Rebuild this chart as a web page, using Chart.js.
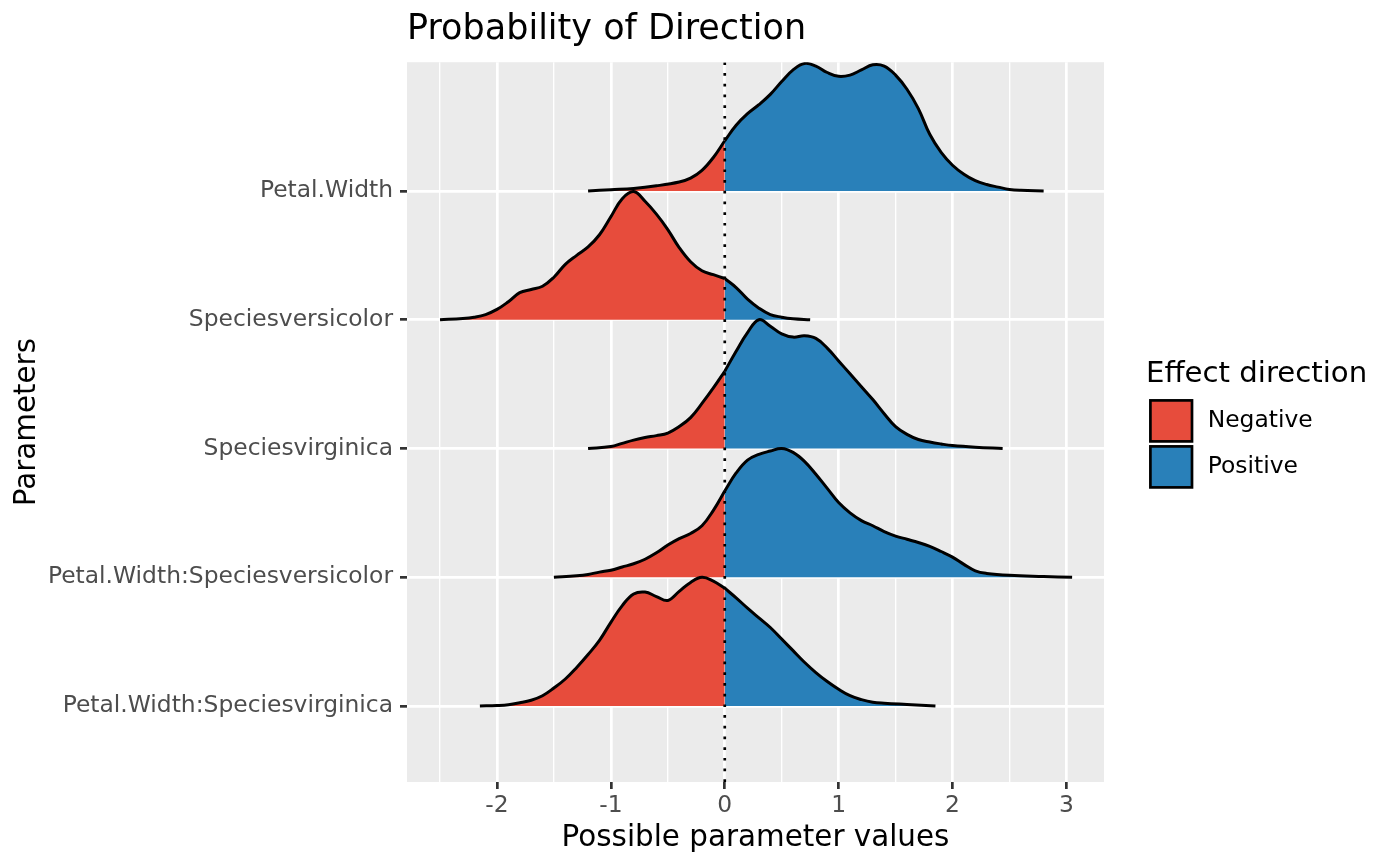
<!DOCTYPE html>
<html>
<head>
<meta charset="utf-8">
<script src="https://cdn.jsdelivr.net/npm/chart.js@4.4.1/dist/chart.umd.min.js"></script>
<style>
  body { margin: 0; background: #fff; }
</style>
</head>
<body>
<canvas id="pd" width="1400" height="866"></canvas>
<script>
// parameters, bottom (1) to top (5)
const params = ['Petal.Width:Speciesvirginica', 'Petal.Width:Speciesversicolor',
  'Speciesvirginica', 'Speciesversicolor', 'Petal.Width'];
const directions = ['Negative', 'Positive'];
const dirColors = ['#E74C3C', '#2980B9'];
const xTicks = [-2.5, -2, -1.5, -1, -0.5, 0, 0.5, 1, 1.5, 2, 2.5, 3];

// posterior densities, scaled so each ridge peaks at 1 row
const petalWidthX = [-1.2, -1.0, -0.8, -0.6, -0.4, -0.3, -0.2, -0.1, 0, 0.1, 0.2, 0.3, 0.4, 0.5, 0.6, 0.7, 0.8, 0.9,
  1.0, 1.1, 1.2, 1.3, 1.4, 1.5, 1.6, 1.7, 1.8, 1.9, 2.0, 2.1, 2.2, 2.3, 2.4, 2.5, 2.6, 2.8];
const petalWidthD = [0, 0.01, 0.02, 0.04, 0.07, 0.10, 0.16, 0.26, 0.39, 0.51, 0.60, 0.67, 0.75, 0.85, 0.94, 0.99, 0.97, 0.92,
  0.89, 0.90, 0.94, 0.98, 0.97, 0.90, 0.79, 0.64, 0.44, 0.30, 0.20, 0.13, 0.08, 0.05, 0.03, 0.012, 0.005, 0];

const versicolorX = [-2.5, -2.3, -2.2, -2.1, -2.0, -1.9, -1.8, -1.7, -1.6, -1.5, -1.4, -1.3, -1.2, -1.1, -1.0, -0.9,
  -0.8, -0.7, -0.6, -0.5, -0.4, -0.3, -0.2, -0.1, 0, 0.1, 0.2, 0.3, 0.4, 0.5, 0.6, 0.75];
const versicolorD = [0, 0.01, 0.02, 0.04, 0.08, 0.14, 0.21, 0.235, 0.26, 0.33, 0.43, 0.50, 0.565, 0.66, 0.80, 0.94,
  0.995, 0.92, 0.82, 0.70, 0.56, 0.45, 0.38, 0.35, 0.32, 0.25, 0.16, 0.09, 0.04, 0.02, 0.008, 0];

const virginicaX = [-1.2, -1.0, -0.9, -0.8, -0.7, -0.6, -0.5, -0.4, -0.3, -0.2, -0.1, 0, 0.1, 0.2, 0.3, 0.4, 0.5,
  0.6, 0.7, 0.8, 0.9, 1.0, 1.1, 1.2, 1.3, 1.4, 1.5, 1.6, 1.7, 1.8, 1.9, 2.0, 2.2, 2.44];
const virginicaD = [0, 0.015, 0.04, 0.065, 0.085, 0.10, 0.12, 0.17, 0.24, 0.35, 0.47, 0.60, 0.755, 0.90, 1.0, 0.95, 0.89,
  0.865, 0.875, 0.855, 0.78, 0.68, 0.58, 0.48, 0.38, 0.27, 0.17, 0.11, 0.07, 0.05, 0.035, 0.023, 0.01, 0];

const intVersX = [-1.5, -1.3, -1.2, -1.1, -1.0, -0.9, -0.8, -0.7, -0.6, -0.5, -0.4, -0.3, -0.2, -0.1, 0, 0.1, 0.2,
  0.3, 0.4, 0.5, 0.6, 0.7, 0.8, 0.9, 1.0, 1.1, 1.2, 1.3, 1.4, 1.5, 1.6, 1.7, 1.8, 1.9, 2.0, 2.1, 2.2, 2.3, 2.5, 2.8, 3.05];
const intVersD = [0, 0.012, 0.022, 0.04, 0.055, 0.08, 0.105, 0.14, 0.19, 0.25, 0.30, 0.34, 0.40, 0.52, 0.67, 0.81, 0.91,
  0.955, 0.98, 1.0, 0.97, 0.90, 0.80, 0.69, 0.58, 0.50, 0.44, 0.40, 0.355, 0.32, 0.295, 0.27, 0.24, 0.20, 0.156, 0.10,
  0.05, 0.03, 0.015, 0.006, 0];

const intVirgX = [-2.15, -2.0, -1.9, -1.8, -1.7, -1.6, -1.5, -1.4, -1.3, -1.2, -1.1, -1.0, -0.9, -0.8, -0.7, -0.6,
  -0.5, -0.4, -0.3, -0.2, -0.1, 0, 0.1, 0.2, 0.3, 0.4, 0.5, 0.6, 0.7, 0.8, 0.9, 1.0, 1.1, 1.2, 1.3, 1.4, 1.6, 1.85];
const intVirgD = [0, 0.004, 0.01, 0.025, 0.045, 0.08, 0.14, 0.21, 0.30, 0.40, 0.51, 0.65, 0.78, 0.87, 0.885, 0.85,
  0.82, 0.89, 0.96, 1.0, 0.97, 0.915, 0.84, 0.76, 0.685, 0.61, 0.52, 0.43, 0.34, 0.26, 0.19, 0.13, 0.08, 0.05, 0.03,
  0.022, 0.012, 0];

const xMin = -2.79, xMax = 3.33;
const yMin = 0.41, yMax = 6.0;

Chart.defaults.font.family = "'DejaVu Sans', sans-serif";

const ridges = [
  { pos: 1, xs: intVirgX, ds: intVirgD },
  { pos: 2, xs: intVersX, ds: intVersD },
  { pos: 3, xs: virginicaX, ds: virginicaD },
  { pos: 4, xs: versicolorX, ds: versicolorD },
  { pos: 5, xs: petalWidthX, ds: petalWidthD }
];

// each ridge split at 0 into a negative and a positive part
const datasets = [];
ridges.forEach(r => {
  const pts = r.xs.map((x, i) => ({ x: x, y: r.pos + r.ds[i] }));
  [pts.filter(p => p.x <= 0), pts.filter(p => p.x >= 0)].forEach((part, k) => {
    datasets.push({
      label: params[r.pos - 1] + ' ' + directions[k],
      data: part,
      fill: { value: r.pos },
      backgroundColor: dirColors[k],
      borderColor: '#000',
      borderWidth: 3,
      pointRadius: 0,
      tension: 0.4,
      order: r.pos
    });
  });
});

// dotted line at zero
datasets.push({
  label: 'zero',
  data: [{ x: 0, y: yMin }, { x: 0, y: yMax }],
  borderColor: '#000',
  borderWidth: 2.7,
  borderDash: [2.7, 8],
  pointRadius: 0,
  fill: false,
  order: 0
});

const panelBg = {
  id: 'panelBg',
  beforeDraw(chart) {
    const { ctx, chartArea: a } = chart;
    ctx.save();
    ctx.fillStyle = '#EBEBEB';
    ctx.fillRect(a.left, a.top, a.right - a.left, a.bottom - a.top);
    ctx.restore();
  }
};

// ggplot style fill legend on the right
const fillLegend = {
  id: 'fillLegend',
  afterDraw(chart) {
    const ctx = chart.ctx;
    ctx.save();
    ctx.fillStyle = '#000';
    ctx.font = "29.2px 'DejaVu Sans'";
    ctx.textBaseline = 'alphabetic';
    ctx.fillText('Effect direction', 1146, 381.5);
    directions.forEach((d, i) => {
      const y = 400.4 + i * 46;
      ctx.fillStyle = dirColors[i];
      ctx.fillRect(1150.4, y, 41.6, 41);
      ctx.lineWidth = 2.7;
      ctx.strokeStyle = '#000';
      ctx.strokeRect(1150.4, y, 41.6, 41);
      ctx.fillStyle = '#000';
      ctx.font = "23.4px 'DejaVu Sans'";
      ctx.textBaseline = 'middle';
      ctx.fillText(d, 1207.7, y + 20.5);
    });
    ctx.restore();
  }
};

new Chart(document.getElementById('pd'), {
  type: 'line',
  data: { datasets },
  options: {
    responsive: false,
    animation: false,
    events: [],
    layout: { padding: { top: 0, right: 296, bottom: 0, left: 0 } },
    scales: {
      x: {
        type: 'linear',
        min: xMin,
        max: xMax,
        afterBuildTicks: s => { s.ticks = xTicks.map(v => ({ value: v })); },
        afterFit: s => { s.height = 84; },
        grid: {
          color: '#fff',
          lineWidth: c => (c.tick && Number.isInteger(c.tick.value)) ? 2.7 : 1.35,
          tickLength: 7,
          tickWidth: 2.7,
          tickColor: c => (c.tick && Number.isInteger(c.tick.value)) ? '#333' : 'rgba(0,0,0,0)'
        },
        border: { display: false },
        ticks: {
          autoSkip: false,
          maxRotation: 0,
          padding: 2.5,
          color: '#4D4D4D',
          font: { size: 23.4 },
          callback: v => Number.isInteger(v) ? String(v) : ''
        },
        title: {
          display: true,
          text: 'Possible parameter values',
          color: '#000',
          font: { size: 29.4 },
          padding: { top: 0, bottom: 10 }
        }
      },
      y: {
        type: 'linear',
        min: yMin,
        max: yMax,
        afterBuildTicks: s => { s.ticks = params.map((p, i) => ({ value: i + 1 })); },
        afterFit: s => { s.width = 407; },
        grid: { color: '#fff', lineWidth: 2.7, tickLength: 7, tickWidth: 2.7, tickColor: '#333' },
        border: { display: false },
        ticks: {
          padding: 7,
          color: '#4D4D4D',
          font: { size: 23.4 },
          callback: v => params[v - 1]
        },
        title: {
          display: true,
          text: 'Parameters',
          color: '#000',
          font: { size: 29.4 },
          padding: { top: 10, bottom: 0 }
        }
      }
    },
    plugins: {
      legend: { display: false },
      tooltip: { enabled: false },
      title: {
        display: true,
        text: 'Probability of Direction',
        align: 'start',
        fullSize: false,
        color: '#000',
        font: { size: 35, weight: 'normal' },
        padding: { top: 8.7, bottom: 11.5 }
      }
    }
  },
  plugins: [panelBg, fillLegend]
});
</script>
</body>
</html>
